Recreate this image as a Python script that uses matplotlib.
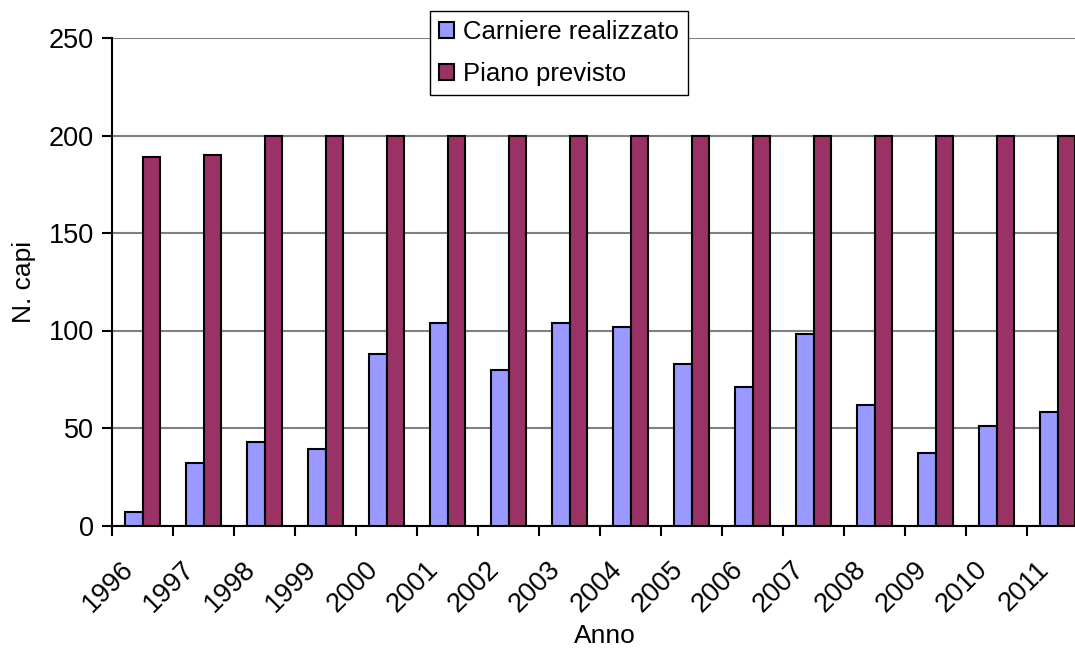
import numpy as np
import matplotlib.pyplot as plt
from matplotlib.ticker import FixedLocator
from matplotlib.transforms import ScaledTranslation

years = ["1996", "1997", "1998", "1999", "2000", "2001", "2002", "2003",
         "2004", "2005", "2006", "2007", "2008", "2009", "2010", "2011"]
carniere = [7, 32, 43, 39, 88, 104, 80, 104, 102, 83, 71, 98, 62, 37, 51, 58]
piano = [189, 190, 200, 200, 200, 200, 200, 200, 200, 200, 200, 200, 200, 200, 200, 200]

plt.rcParams["font.family"] = ["Liberation Sans", "DejaVu Sans"]

fig = plt.figure(figsize=(10.75, 6.51), dpi=100)
# plot area runs a little past the right edge of the picture
ax = fig.add_axes([112 / 1075, 125.5 / 651, 976 / 1075, 487.5 / 651])

x = np.arange(len(years))
w = 0.295
ax.bar(x - w / 2, carniere, w, color="#9999FF", edgecolor="black", linewidth=1.5,
       label="Carniere realizzato", zorder=3)
ax.bar(x + w / 2, piano, w, color="#993366", edgecolor="black", linewidth=1.5,
       label="Piano previsto", zorder=3)

ax.set_xlim(-0.5, len(years) - 0.5)
ax.set_ylim(0, 250)
ax.set_yticks([0, 50, 100, 150, 200, 250])
ax.yaxis.grid(True, color="#808080", linewidth=1.5, zorder=0)

ax.set_xticks(x)
ax.set_xticklabels(years, rotation=45, ha="right", va="top", rotation_mode="anchor")
ax.xaxis.set_minor_locator(FixedLocator(np.arange(-0.5, len(years), 1)))
ax.tick_params(axis="x", which="major", length=0, pad=20, labelsize=19.5)
ax.tick_params(axis="x", which="minor", length=7, width=1.5, direction="out")
ax.tick_params(axis="y", length=7, width=1.5, labelsize=19.5, pad=6)

for side in ["top", "right"]:
    ax.spines[side].set_visible(False)
for side in ["left", "bottom"]:
    ax.spines[side].set_linewidth(1.5)

ax.set_ylabel("N. capi", fontsize=19, labelpad=9)
ax.set_xlabel("Anno", fontsize=19)
ax.xaxis.set_label_coords(0.505, -0.203)

leg = ax.legend(loc="upper center", bbox_to_anchor=(0.458, 1.055), fontsize=18.5,
                fancybox=False, framealpha=1, edgecolor="black",
                handlelength=0.6, handleheight=0.6, handletextpad=0.35,
                borderpad=0.35, labelspacing=0.7, borderaxespad=0)
leg.get_frame().set_linewidth(1)
leg.set_zorder(5)

# year labels sit a bit left of the category centre, as in the original
shift = ScaledTranslation(-22 / 100, -3 / 100, fig.dpi_scale_trans)
for lab in ax.get_xticklabels():
    lab.set_transform(lab.get_transform() + shift)

fig.savefig("out.png", dpi=100)
